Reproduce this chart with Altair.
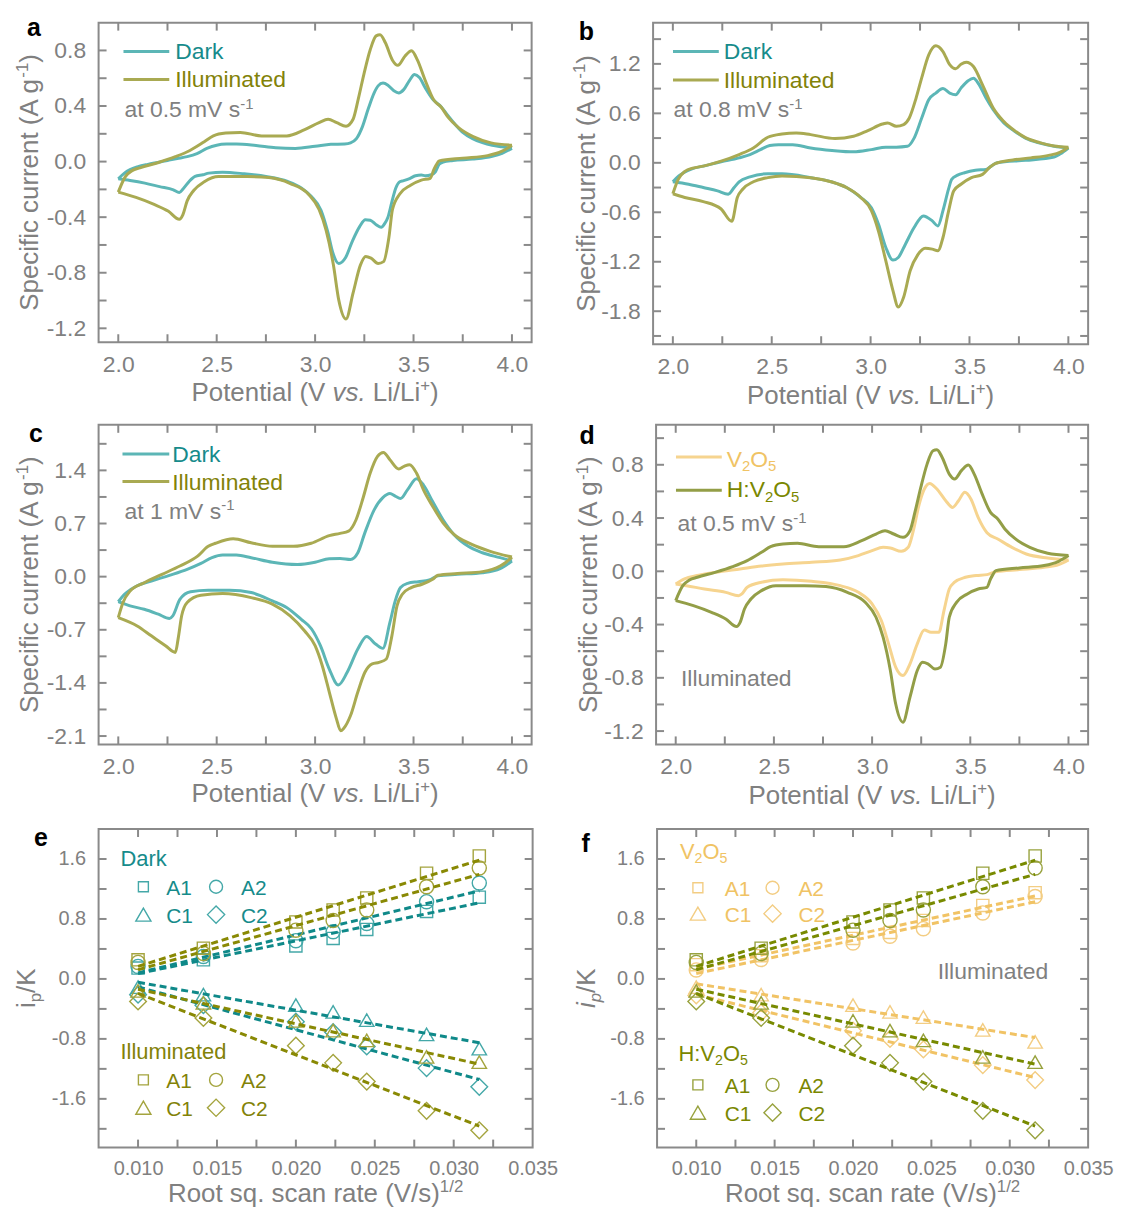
import altair as alt
import pandas as pd

FONT = "Liberation Sans"
GRAY = "#808080"
FRAME = "#8a8a8a"

C_DARK, T_DARK = "#5cb6b6", "#168b8b"
C_ILL, T_ILL = "#a9aa52", "#828208"
C_V, T_V = "#f6d48f", "#f0c364"
C_H, T_H = "#939e47", "#7a8700"
M_DARK, D_DARK = "#44a8a8", "#0f8989"
M_ILL, D_ILL = "#a4a43e", "#898904"
M_V, D_V = "#f3cd83", "#f1c365"
M_H, D_H = "#98a23e", "#788a00"

# ---------------- CV data: (potential / V, specific current / A g-1) ----------------
a_dark_anodic = [(2.00,-0.124),(2.03,-0.085),(2.06,-0.058),(2.10,-0.037),(2.15,-0.020),(2.20,-0.006),(2.25,0.008),(2.30,0.022),(2.35,0.036),(2.40,0.058),(2.45,0.095),(2.50,0.118),(2.55,0.126),(2.60,0.127),(2.70,0.116),(2.80,0.100),(2.90,0.095),(3.00,0.110),(3.08,0.124),(3.15,0.127),(3.18,0.135),(3.21,0.165),(3.24,0.250),(3.27,0.380),(3.30,0.495),(3.32,0.545),(3.345,0.565),(3.37,0.550),(3.40,0.510),(3.425,0.494),(3.45,0.518),(3.48,0.585),(3.505,0.627),(3.53,0.605),(3.56,0.530),(3.60,0.445),(3.64,0.395),(3.67,0.340),(3.71,0.270),(3.75,0.210),(3.80,0.165),(3.85,0.137),(3.90,0.118),(3.95,0.106),(4.00,0.095)]
a_dark_cathodic = [(4.00,0.095),(3.95,0.060),(3.90,0.038),(3.80,0.018),(3.70,0.008),(3.65,-0.004),(3.63,-0.020),(3.61,-0.075),(3.59,-0.095),(3.56,-0.102),(3.54,-0.097),(3.51,-0.102),(3.48,-0.122),(3.45,-0.137),(3.43,-0.145),(3.41,-0.190),(3.39,-0.290),(3.37,-0.400),(3.354,-0.445),(3.336,-0.473),(3.31,-0.454),(3.28,-0.422),(3.255,-0.418),(3.227,-0.466),(3.19,-0.570),(3.155,-0.690),(3.12,-0.733),(3.09,-0.656),(3.065,-0.510),(3.03,-0.350),(2.98,-0.250),(2.93,-0.190),(2.86,-0.143),(2.75,-0.107),(2.64,-0.088),(2.53,-0.076),(2.46,-0.083),(2.43,-0.095),(2.39,-0.107),(2.36,-0.143),(2.33,-0.195),(2.31,-0.222),(2.28,-0.203),(2.21,-0.180),(2.135,-0.155),(2.06,-0.136),(2.00,-0.124)]

# H:V2O5 illuminated, 0.5 mV/s (panels a and d)
hv_anodic = [(2.00,-0.220),(2.036,-0.108),(2.07,-0.065),(2.11,-0.045),(2.20,-0.008),(2.29,0.035),(2.364,0.080),(2.437,0.143),(2.483,0.185),(2.546,0.205),(2.62,0.210),(2.728,0.185),(2.856,0.185),(2.947,0.230),(3.02,0.280),(3.066,0.305),(3.11,0.280),(3.157,0.255),(3.193,0.305),(3.22,0.455),(3.248,0.630),(3.28,0.805),(3.31,0.905),(3.33,0.913),(3.357,0.855),(3.393,0.730),(3.42,0.693),(3.457,0.760),(3.49,0.798),(3.52,0.730),(3.557,0.593),(3.603,0.443),(3.64,0.393),(3.676,0.318),(3.73,0.243),(3.803,0.180),(3.894,0.135),(4.00,0.118)]
hv_cathodic = [(4.00,0.118),(3.95,0.075),(3.876,0.043),(3.75,0.025),(3.63,0.005),(3.615,-0.025),(3.603,-0.058),(3.585,-0.120),(3.54,-0.133),(3.485,-0.170),(3.43,-0.233),(3.393,-0.345),(3.375,-0.545),(3.348,-0.720),(3.32,-0.733),(3.284,-0.695),(3.257,-0.683),(3.23,-0.745),(3.193,-0.945),(3.157,-1.133),(3.12,-0.995),(3.093,-0.745),(3.056,-0.495),(3.02,-0.345),(2.965,-0.233),(2.874,-0.158),(2.765,-0.115),(2.656,-0.108),(2.51,-0.108),(2.437,-0.145),(2.383,-0.208),(2.35,-0.283),(2.328,-0.383),(2.31,-0.415),(2.255,-0.358),(2.182,-0.308),(2.09,-0.258),(2.00,-0.220)]

# V2O5 illuminated, 0.5 mV/s (panel d)
v_anodic = [(2.00,-0.095),(2.045,-0.057),(2.11,-0.032),(2.20,-0.008),(2.328,0.018),(2.437,0.040),(2.546,0.055),(2.692,0.068),(2.838,0.085),(2.93,0.118),(3.00,0.155),(3.056,0.180),(3.093,0.175),(3.148,0.150),(3.184,0.180),(3.21,0.305),(3.24,0.505),(3.266,0.618),(3.293,0.660),(3.33,0.618),(3.375,0.530),(3.41,0.480),(3.44,0.530),(3.472,0.593),(3.503,0.543),(3.54,0.405),(3.585,0.290),(3.64,0.243),(3.712,0.180),(3.785,0.130),(3.894,0.100),(4.00,0.085)]
v_cathodic = [(4.00,0.085),(3.95,0.050),(3.876,0.030),(3.75,0.0125),(3.63,-0.003),(3.585,-0.025),(3.53,-0.032),(3.475,-0.045),(3.42,-0.082),(3.393,-0.133),(3.366,-0.295),(3.34,-0.458),(3.30,-0.458),(3.266,-0.440),(3.23,-0.545),(3.193,-0.695),(3.157,-0.783),(3.12,-0.720),(3.084,-0.545),(3.047,-0.370),(3.00,-0.245),(2.93,-0.158),(2.838,-0.108),(2.692,-0.075),(2.546,-0.063),(2.437,-0.082),(2.364,-0.120),(2.337,-0.170),(2.32,-0.183),(2.255,-0.158),(2.146,-0.133),(2.055,-0.108),(2.00,-0.095)]

# 0.8 mV/s (panel b)
b_dark_anodic = [(2.00,-0.23),(2.03,-0.16),(2.054,-0.12),(2.10,-0.07),(2.154,-0.04),(2.244,0.012),(2.335,0.06),(2.39,0.10),(2.443,0.16),(2.49,0.21),(2.534,0.22),(2.606,0.22),(2.697,0.18),(2.805,0.15),(2.914,0.133),(3.004,0.16),(3.077,0.19),(3.13,0.19),(3.186,0.20),(3.22,0.30),(3.258,0.54),(3.294,0.765),(3.33,0.846),(3.366,0.90),(3.40,0.846),(3.43,0.826),(3.457,0.906),(3.493,0.995),(3.52,1.027),(3.547,0.955),(3.584,0.785),(3.62,0.644),(3.674,0.483),(3.728,0.383),(3.783,0.30),(3.855,0.24),(3.928,0.20),(4.00,0.18)]
b_dark_cathodic = [(4.00,0.18),(3.96,0.11),(3.928,0.07),(3.783,0.03),(3.64,0.0),(3.61,-0.04),(3.584,-0.08),(3.53,-0.09),(3.475,-0.12),(3.44,-0.15),(3.41,-0.20),(3.394,-0.32),(3.366,-0.58),(3.34,-0.765),(3.312,-0.705),(3.267,-0.644),(3.22,-0.785),(3.176,-0.987),(3.14,-1.148),(3.113,-1.18),(3.077,-1.027),(3.04,-0.745),(3.004,-0.544),(2.95,-0.42),(2.878,-0.30),(2.805,-0.233),(2.697,-0.18),(2.552,-0.133),(2.48,-0.133),(2.39,-0.17),(2.335,-0.23),(2.31,-0.30),(2.28,-0.38),(2.226,-0.34),(2.154,-0.30),(2.08,-0.26),(2.00,-0.23)]
b_ill_anodic = [(2.00,-0.375),(2.027,-0.20),(2.063,-0.10),(2.10,-0.065),(2.154,-0.04),(2.244,0.02),(2.335,0.10),(2.407,0.18),(2.48,0.31),(2.552,0.35),(2.624,0.362),(2.697,0.342),(2.82,0.294),(2.914,0.322),(2.986,0.39),(3.06,0.47),(3.086,0.483),(3.13,0.443),(3.167,0.463),(3.195,0.54),(3.23,0.785),(3.258,1.027),(3.294,1.31),(3.33,1.42),(3.366,1.35),(3.40,1.19),(3.43,1.14),(3.457,1.196),(3.484,1.22),(3.52,1.168),(3.566,0.946),(3.62,0.664),(3.674,0.50),(3.728,0.39),(3.783,0.305),(3.855,0.245),(3.928,0.205),(4.00,0.19)]
b_ill_cathodic = [(4.00,0.19),(3.96,0.13),(3.90,0.09),(3.81,0.06),(3.72,0.035),(3.63,-0.01),(3.60,-0.06),(3.566,-0.14),(3.51,-0.18),(3.457,-0.26),(3.42,-0.342),(3.394,-0.59),(3.366,-0.906),(3.34,-1.067),(3.312,-1.047),(3.276,-1.035),(3.24,-1.11),(3.20,-1.31),(3.167,-1.63),(3.14,-1.75),(3.113,-1.55),(3.077,-1.19),(3.04,-0.83),(3.004,-0.58),(2.95,-0.42),(2.878,-0.30),(2.805,-0.233),(2.697,-0.18),(2.552,-0.16),(2.48,-0.18),(2.407,-0.23),(2.353,-0.32),(2.326,-0.42),(2.298,-0.71),(2.244,-0.56),(2.154,-0.47),(2.06,-0.42),(2.00,-0.375)]

# 1 mV/s (panel c)
c_dark_anodic = [(2.00,-0.33),(2.033,-0.23),(2.063,-0.17),(2.096,-0.12),(2.168,-0.057),(2.26,0.017),(2.35,0.096),(2.42,0.175),(2.476,0.25),(2.53,0.284),(2.60,0.284),(2.675,0.25),(2.783,0.19),(2.91,0.16),(3.00,0.19),(3.072,0.236),(3.127,0.24),(3.18,0.227),(3.217,0.315),(3.253,0.58),(3.30,0.88),(3.344,1.04),(3.38,1.094),(3.407,1.06),(3.434,1.03),(3.47,1.147),(3.515,1.29),(3.55,1.21),(3.597,0.99),(3.65,0.75),(3.705,0.556),(3.778,0.40),(3.85,0.315),(3.94,0.25),(4.00,0.206)]
c_dark_cathodic = [(4.00,0.206),(3.97,0.15),(3.94,0.105),(3.85,0.052),(3.723,0.03),(3.624,0.01),(3.58,-0.044),(3.524,-0.066),(3.47,-0.088),(3.434,-0.144),(3.407,-0.32),(3.38,-0.604),(3.344,-0.945),(3.307,-0.888),(3.262,-0.788),(3.217,-0.954),(3.163,-1.26),(3.118,-1.427),(3.072,-1.217),(3.027,-0.91),(2.982,-0.69),(2.928,-0.56),(2.855,-0.407),(2.783,-0.32),(2.675,-0.21),(2.566,-0.18),(2.457,-0.18),(2.367,-0.20),(2.313,-0.30),(2.277,-0.516),(2.26,-0.55),(2.204,-0.495),(2.132,-0.43),(2.06,-0.385),(2.00,-0.33)]
c_ill_anodic = [(2.00,-0.54),(2.024,-0.34),(2.06,-0.19),(2.132,-0.08),(2.222,0.03),(2.313,0.14),(2.403,0.27),(2.457,0.40),(2.494,0.44),(2.584,0.50),(2.675,0.446),(2.783,0.40),(2.89,0.40),(2.98,0.44),(3.072,0.54),(3.127,0.57),(3.17,0.60),(3.208,0.75),(3.244,1.04),(3.28,1.365),(3.317,1.585),(3.347,1.637),(3.38,1.54),(3.425,1.418),(3.452,1.453),(3.48,1.475),(3.515,1.365),(3.55,1.147),(3.597,0.928),(3.65,0.71),(3.705,0.556),(3.796,0.425),(3.886,0.337),(4.00,0.258)]
c_ill_cathodic = [(4.00,0.258),(3.97,0.19),(3.94,0.14),(3.85,0.066),(3.723,0.04),(3.624,0.018),(3.597,-0.035),(3.543,-0.10),(3.488,-0.144),(3.443,-0.232),(3.416,-0.385),(3.39,-0.78),(3.362,-1.085),(3.325,-1.13),(3.29,-1.15),(3.253,-1.26),(3.217,-1.52),(3.18,-1.83),(3.145,-2.0),(3.13,-2.03),(3.108,-1.87),(3.072,-1.52),(3.036,-1.17),(3.00,-0.91),(2.946,-0.713),(2.873,-0.516),(2.783,-0.363),(2.675,-0.276),(2.53,-0.223),(2.42,-0.245),(2.35,-0.34),(2.322,-0.516),(2.304,-0.82),(2.29,-0.998),(2.24,-0.91),(2.168,-0.78),(2.096,-0.65),(2.00,-0.54)]

# ---------------- peak current vs root scan rate ----------------
root_rate = [0.0100, 0.01414, 0.0200, 0.02236, 0.02449, 0.02828, 0.03162]
PEAKS = ["A1", "A2", "C1", "C2"]
dark_peaks = {"A1": [0.145, 0.255, 0.44, 0.54, 0.66, 0.90, 1.09],
              "A2": [0.167, 0.30, 0.51, 0.63, 0.74, 1.03, 1.28],
              "C1": [-0.11, -0.21, -0.35, -0.44, -0.55, -0.74, -0.93],
              "C2": [-0.21, -0.35, -0.57, -0.71, -0.90, -1.19, -1.44]}
ill_peaks = {"A1": [0.255, 0.41, 0.76, 0.92, 1.08, 1.41, 1.64],
             "A2": [0.22, 0.34, 0.65, 0.78, 0.92, 1.23, 1.48],
             "C1": [-0.16, -0.32, -0.56, -0.69, -0.82, -1.04, -1.11],
             "C2": [-0.30, -0.52, -0.89, -1.12, -1.37, -1.76, -2.02]}
v_peaks = {"A1": [0.19, 0.31, 0.54, 0.62, 0.78, 0.98, 1.15],
           "A2": [0.12, 0.26, 0.48, 0.57, 0.67, 0.88, 1.10],
           "C1": [-0.11, -0.21, -0.35, -0.44, -0.51, -0.68, -0.84],
           "C2": [-0.22, -0.45, -0.69, -0.80, -0.94, -1.15, -1.35]}
hv_peaks = ill_peaks

# ---------------- axis ticks ----------------
cv_xticks = [2.0, 2.25, 2.5, 2.75, 3.0, 3.25, 3.5, 3.75, 4.0]
cv_xlabels = [2.0, 2.5, 3.0, 3.5, 4.0]
a_yticks = [-1.2, -1.0, -0.8, -0.6, -0.4, -0.2, 0.0, 0.2, 0.4, 0.6, 0.8]
a_ylabels = [-1.2, -0.8, -0.4, 0.0, 0.4, 0.8]
b_yticks = [-2.1, -1.8, -1.5, -1.2, -0.9, -0.6, -0.3, 0.0, 0.3, 0.6, 0.9, 1.2, 1.5]
b_ylabels = [-1.8, -1.2, -0.6, 0.0, 0.6, 1.2]
c_yticks = [-2.1, -1.75, -1.4, -1.05, -0.7, -0.35, 0.0, 0.35, 0.7, 1.05, 1.4, 1.75]
c_ylabels = [-2.1, -1.4, -0.7, 0.0, 0.7, 1.4]
d_yticks = [-1.2, -1.0, -0.8, -0.6, -0.4, -0.2, 0.0, 0.2, 0.4, 0.6, 0.8, 1.0]
sr_xticks = [0.01, 0.0125, 0.015, 0.0175, 0.02, 0.0225, 0.025, 0.0275, 0.03, 0.0325]
sr_xlabels = [0.010, 0.015, 0.020, 0.025, 0.030, 0.035]
sr_yticks = [-2.0, -1.6, -1.2, -0.8, -0.4, 0.0, 0.4, 0.8, 1.2, 1.6]
sr_ylabels = [-1.6, -0.8, 0.0, 0.8, 1.6]

# ---------------- helpers ----------------
AW = {' ': 278, '(': 333, ')': 333, '+': 584, '-': 333, '.': 278, '/': 278, ':': 278,
      'A': 667, 'C': 722, 'D': 722, 'H': 722, 'I': 278, 'K': 667, 'L': 556, 'O': 778, 'P': 667,
      'R': 722, 'S': 667, 'V': 667, 'a': 556, 'c': 500, 'd': 556, 'e': 556, 'f': 278, 'g': 556,
      'i': 222, 'k': 500, 'l': 222, 'm': 833, 'n': 556, 'o': 556, 'p': 556, 'q': 556, 'r': 333,
      's': 500, 't': 278, 'u': 556, 'v': 500}


def tw(s, size):
    return sum(AW.get(ch, 556) for ch in s) / 1000.0 * size


ONE = pd.DataFrame({"k": [0]})


def txt(x, y, s, size, color, weight="normal", style="normal", angle=0, align="left"):
    return alt.Chart(ONE).mark_text(
        text=s, font=FONT, fontSize=size, color=color, fontWeight=weight, fontStyle=style,
        angle=angle, align=align, baseline="alphabetic"
    ).encode(x=alt.value(x), y=alt.value(y))


def seg(x1, x2, y, color):
    return alt.Chart(ONE).mark_rule(color=color, strokeWidth=3).encode(
        x=alt.value(x1), x2=alt.value(x2), y=alt.value(y))


def sym(x, y, shape, size, color):
    return alt.Chart(ONE).mark_point(shape=shape, size=size, filled=False, color=color,
                                     strokeWidth=1.4, opacity=1).encode(x=alt.value(x), y=alt.value(y))


def rich(x, y, pieces, size, color, vertical=False, center=False):
    small = size * 0.65
    info = []
    for t, k in pieces:
        fs = small if k in ("sup", "sub", "isub") else size
        info.append((t, k, fs, tw(t, fs)))
    total = sum(i[3] for i in info)
    pos = -total / 2.0 if center else 0.0
    out = []
    for t, k, fs, w in info:
        stripped = t.lstrip()
        lead = tw(t[:len(t) - len(stripped)], fs)
        style = "italic" if k in ("i", "isub") else "normal"
        shift = -0.38 * size if k == "sup" else (0.2 * size if k in ("sub", "isub") else 0.0)
        p = pos + lead
        if vertical:
            out.append(txt(x + shift, y - p, stripped.rstrip(), fs, color, style=style, angle=270))
        else:
            out.append(txt(x + p, y + shift, stripped.rstrip(), fs, color, style=style))
        pos += w
    return out


def panel(W, H, box, xdom, ydom, xt, yt, xl, yl, xfmt, yfmt, lbl, data_fn, deco):
    L, R, T, B = box
    xs = alt.Scale(domain=xdom, nice=False, zero=False)
    ys = alt.Scale(domain=ydom, nice=False, zero=False)
    common = dict(ticks=False, tickSize=0, domain=False, grid=False, title=None,
                  labelFont=FONT, labelFontSize=lbl, labelColor=GRAY,
                  labelOverlap=False, labelFlush=False)
    xax = alt.Axis(values=xl, labelPadding=11,
                   labelExpr="replace(format(datum.value, '%s'), '\u2212', '-')" % xfmt, **common)
    yax = alt.Axis(values=yl, labelPadding=13,
                   labelExpr="replace(format(datum.value, '%s'), '\u2212', '-')" % yfmt, **common)

    def X():
        return alt.X("x:Q", scale=xs, axis=xax)

    def Y():
        return alt.Y("y:Q", scale=ys, axis=yax)

    anchor = alt.Chart(ONE).mark_rect(opacity=0).encode(
        x=alt.value(-L), x2=alt.value(W + R), y=alt.value(-T), y2=alt.value(H + B))
    xtd = pd.DataFrame({"x": xt})
    ytd = pd.DataFrame({"y": yt})
    tick = dict(color=FRAME, strokeWidth=2)
    t_bot = alt.Chart(xtd).mark_rule(**tick).encode(x=X(), y=alt.value(H), y2=alt.value(H - 8))
    t_top = alt.Chart(xtd).mark_rule(**tick).encode(x=X(), y=alt.value(0), y2=alt.value(8))
    t_lft = alt.Chart(ytd).mark_rule(**tick).encode(y=Y(), x=alt.value(0), x2=alt.value(8))
    t_rgt = alt.Chart(ytd).mark_rule(**tick).encode(y=Y(), x=alt.value(W), x2=alt.value(W - 8))
    layers = [anchor] + data_fn(X, Y) + [t_bot, t_top, t_lft, t_rgt] + deco
    return alt.layer(*layers).properties(width=W, height=H)


def cv_data(curves):
    def fn(X, Y):
        out = []
        for up, down, col in curves:
            rows = [{"x": v, "y": i, "branch": "up"} for v, i in up] + \
                   [{"x": v, "y": i, "branch": "down"} for v, i in down]
            out.append(alt.Chart(pd.DataFrame(rows)).mark_line(
                strokeWidth=3, interpolate="monotone", color=col).encode(
                x=X(), y=Y(), detail="branch:N"))
        return out
    return fn


SHAPES = [("A1", "square", 150), ("A2", "circle", 200), ("C1", "triangle-up", 210), ("C2", "diamond", 280)]


def scan_data(groups):
    def fn(X, Y):
        out = []
        for vals, mcol, dcol in groups:
            rows = []
            for pk in PEAKS:
                for xv, yv in zip(root_rate, vals[pk]):
                    rows.append({"x": xv, "y": yv, "peak": pk})
            df = pd.DataFrame(rows)
            for pk, shp, sz in SHAPES:
                out.append(alt.Chart(df).transform_filter(alt.datum.peak == pk).mark_point(
                    shape=shp, size=sz, filled=False, color=mcol, strokeWidth=1.4, opacity=1
                ).encode(x=X(), y=Y()))
            out.append(alt.Chart(df).transform_regression("x", "y", groupby=["peak"]).mark_line(
                color=dcol, strokeWidth=3, strokeDash=[7, 4]).encode(x=X(), y=Y(), detail="peak:N"))
        return out
    return fn


Y_CV = [("Specific current (A g", "n"), ("-1", "sup"), (")", "n")]
X_CV = [("Potential (V ", "n"), ("vs.", "i"), (" Li/Li", "n"), ("+", "sup"), (")", "n")]
X_SR = [("Root sq. scan rate (V/s)", "n"), ("1/2", "sup")]


def cv_deco(W, H, label, lpos, lx, ly, names, rate_txt, rpos, ytx, xty):
    d = [txt(lpos[0], lpos[1], label, 25, "#000000", weight="bold")]
    for (pieces, lcol, tcol), y_line, y_text in zip(names, ly[0], ly[1]):
        d.append(seg(lx[0], lx[1], y_line, lcol))
        d += rich(lx[2], y_text, pieces, 23, tcol)
    d += rich(rpos[0], rpos[1], [(rate_txt, "n"), ("-1", "sup")], 23, GRAY)
    d += rich(ytx, H / 2.0, Y_CV, 26, GRAY, vertical=True, center=True)
    d += rich(W / 2.0, H + xty, X_CV, 26, GRAY, center=True)
    return d


def sr_legend(x0, ytitle, title_pieces, tcol, mcol, rows, cols_sym, cols_txt):
    d = rich(x0, ytitle, title_pieces, 22, tcol)
    grid = [("A1", 0, 0), ("A2", 0, 1), ("C1", 1, 0), ("C2", 1, 1)]
    legsize = {"A1": 100, "A2": 170, "C1": 230, "C2": 300}
    shp = {pk: s for pk, s, _ in SHAPES}
    for pk, r, c in grid:
        d.append(sym(cols_sym[c], rows[r], shp[pk], legsize[pk], mcol))
        d.append(txt(cols_txt[c], rows[r] + 8, pk, 21, tcol))
    return d


LEFT = 89.6
CVL = 23
SRL = 20

# ---------------- panel a ----------------
Wa, Ha = 435, 321
pa = panel(Wa, Ha, (LEFT, 2, 11, 70), [1.9, 4.1], [-1.3, 1.0], cv_xticks, a_yticks, cv_xlabels, a_ylabels,
           ".1f", ".1f", CVL,
           cv_data([(a_dark_anodic, a_dark_cathodic, C_DARK), (hv_anodic, hv_cathodic, C_ILL)]),
           cv_deco(Wa, Ha, "a", (-72, 13), (25, 71, 77), ([29, 57], [37, 65]),
                   [([("Dark", "n")], C_DARK, T_DARK), ([("Illuminated", "n")], C_ILL, T_ILL)],
                   "at 0.5 mV s", (26, 95), -61, 59))

# ---------------- panel b ----------------
Wb, Hb = 437, 323
pb = panel(Wb, Hb, (118, 4, 11, 68), [1.9, 4.1], [-2.2, 1.7], cv_xticks, b_yticks, cv_xlabels, b_ylabels,
           ".1f", ".1f", CVL,
           cv_data([(b_dark_anodic, b_dark_cathodic, C_DARK), (b_ill_anodic, b_ill_cathodic, C_ILL)]),
           cv_deco(Wb, Hb, "b", (-74.6, 17.7), (20, 66, 71), ([29, 57.5], [37, 65.5]),
                   [([("Dark", "n")], C_DARK, T_DARK), ([("Illuminated", "n")], C_ILL, T_ILL)],
                   "at 0.8 mV s", (20.5, 95), -58.6, 60))

# ---------------- panel c ----------------
Wc, Hc = 435, 321
pc = panel(Wc, Hc, (LEFT, 2, 11, 72), [1.9, 4.1], [-2.21, 2.0], cv_xticks, c_yticks, cv_xlabels, c_ylabels,
           ".1f", ".1f", CVL,
           cv_data([(c_dark_anodic, c_dark_cathodic, C_DARK), (c_ill_anodic, c_ill_cathodic, C_ILL)]),
           cv_deco(Wc, Hc, "c", (-70, 17.3), (24, 71, 74), ([29.3, 57], [37.3, 65]),
                   [([("Dark", "n")], C_DARK, T_DARK), ([("Illuminated", "n")], C_ILL, T_ILL)],
                   "at 1 mV s", (26, 94.5), -61, 57.6))

# ---------------- panel d ----------------
Wd, Hd = 434, 321
V2O5 = [("V", "n"), ("2", "sub"), ("O", "n"), ("5", "sub")]
HV2O5 = [("H:V", "n"), ("2", "sub"), ("O", "n"), ("5", "sub")]
deco_d = cv_deco(Wd, Hd, "d", (-77, 19), (20, 66, 71), ([32.3, 65.7], [42, 72.5]),
                 [(V2O5, C_V, T_V), (HV2O5, C_H, T_H)],
                 "at 0.5 mV s", (21.5, 107), -59, 60)
deco_d.append(txt(25, 262.5, "Illuminated", 23, GRAY))
pd_ = panel(Wd, Hd, (120.6, 4, 11, 72), [1.9, 4.1], [-1.3, 1.1], cv_xticks, d_yticks, cv_xlabels, a_ylabels,
            ".1f", ".1f", CVL,
            cv_data([(v_anodic, v_cathodic, C_V), (hv_anodic, hv_cathodic, C_H)]),
            deco_d)

# ---------------- panel e ----------------
We, He = 436, 320
deco_e = [txt(-65, 17, "e", 25, "#000000", weight="bold")]
deco_e += sr_legend(22, 37, [("Dark", "n")], T_DARK, M_DARK, [58, 86], [45, 118], [68, 143])
deco_e += sr_legend(22, 231, [("Illuminated", "n")], T_ILL, M_ILL, [252, 280], [45, 118], [68, 143])
deco_e += rich(-63.5, He / 2.0, [("i", "n"), ("p", "sub"), ("/K", "n")], 26, GRAY, vertical=True, center=True)
deco_e += rich(We / 2.0, He + 55, X_SR, 26, GRAY, center=True)
pe = panel(We, He, (LEFT, 30, 11, 61), [0.0075, 0.035], [-2.25, 2.0], sr_xticks, sr_yticks, sr_xlabels, sr_ylabels,
           ".3f", ".1f", SRL,
           scan_data([(dark_peaks, M_DARK, D_DARK), (ill_peaks, M_ILL, D_ILL)]),
           deco_e)

# ---------------- panel f ----------------
Wf, Hf = 433, 320
deco_f = [txt(-76, 23, "f", 25, "#000000", weight="bold")]
deco_f += sr_legend(23, 30, V2O5, T_V, M_V, [59, 85], [41, 116], [68, 142])
deco_f += sr_legend(21.5, 233, HV2O5, T_H, M_H, [257, 285], [41, 116], [68, 142])
deco_f.append(txt(393, 151, "Illuminated", 23, GRAY, align="right"))
deco_f += rich(-62, Hf / 2.0, [("i", "i"), ("p", "isub"), ("/K", "n")], 26, GRAY, vertical=True, center=True)
deco_f += rich(Wf / 2.0, Hf + 55, X_SR, 26, GRAY, center=True)
pf = panel(Wf, Hf, (92.4, 25, 11, 61), [0.0075, 0.035], [-2.25, 2.0], sr_xticks, sr_yticks, sr_xlabels, sr_ylabels,
           ".3f", ".1f", SRL,
           scan_data([(v_peaks, M_V, D_V), (hv_peaks, M_H, D_H)]),
           deco_f)

row1 = alt.hconcat(pa, pb, spacing=0)
row2 = alt.hconcat(pc, pd_, spacing=0)
row3 = alt.hconcat(pe, pf, spacing=0)
chart = alt.vconcat(row1, row2, row3, spacing=0).configure_view(
    stroke=FRAME, strokeWidth=2).properties(padding={"left": 0, "top": 0, "right": 0, "bottom": 0})

chart.save("out.html", embed_options={"renderer": "svg", "actions": False})
